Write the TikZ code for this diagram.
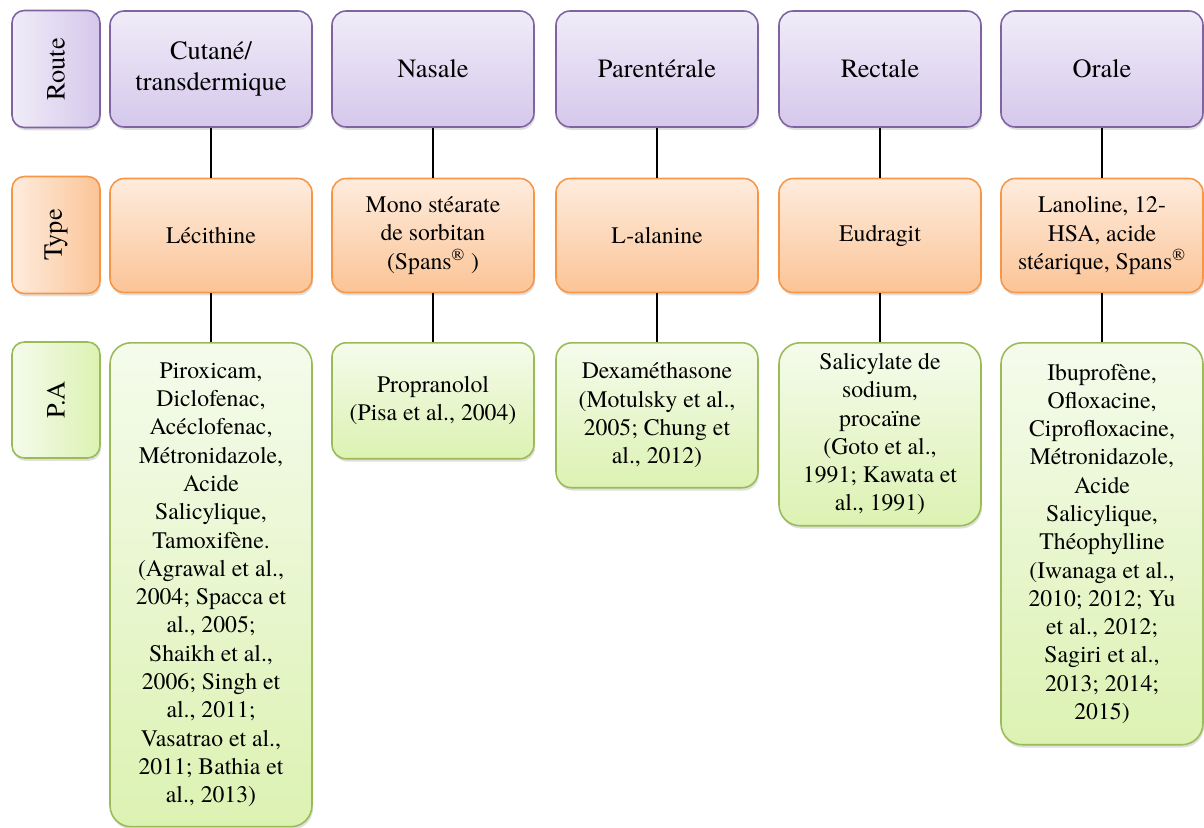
\documentclass[tikz,border=0pt]{standalone}
\usepackage{fontspec}
\setmainfont{TeX Gyre Termes}
\usepackage{tikz}
\usepackage{xcolor}
\usetikzlibrary{positioning, shadows}
\definecolor{rtDraw}{RGB}{128,100,162}
\definecolor{rtTop}{RGB}{240,236,248}
\definecolor{rtBot}{RGB}{213,200,235}
\definecolor{tyDraw}{RGB}{247,150,70}
\definecolor{tyTop}{RGB}{254,236,222}
\definecolor{tyBot}{RGB}{251,196,150}
\definecolor{paDraw}{RGB}{155,187,89}
\definecolor{paTop}{RGB}{245,251,236}
\definecolor{paBot}{RGB}{220,242,178}
\newcommand{\bodyfont}{\fontsize{13.5}{16.1}\selectfont}
\newcommand{\headfont}{\fontsize{15}{18}\selectfont}

\begin{document}
\begin{tikzpicture}[
  x=0.02cm, y=-0.02cm,
  box/.style={line width=0.9pt, align=center, inner sep=1pt,
              minimum width=4.04cm,
              drop shadow={opacity=0.25, shadow xshift=0.6pt, shadow yshift=-1.6pt}},
  routebox/.style={box, draw=rtDraw, top color=rtTop, bottom color=rtBot,
              rounded corners=8pt, minimum height=2.32cm, font=\headfont},
  typebox/.style={box, draw=tyDraw, top color=tyTop, bottom color=tyBot,
              rounded corners=8pt, minimum height=2.28cm, font=\bodyfont},
  pabox/.style={box, draw=paDraw, top color=paTop, bottom color=paBot,
              rounded corners=12pt, anchor=north, font=\bodyfont},
  sidebox/.style={line width=0.9pt, minimum width=1.76cm, rounded corners=7pt,
              font=\headfont,
              drop shadow={opacity=0.25, shadow xshift=0.6pt, shadow yshift=-1.6pt}},
  link/.style={draw=black, line width=0.7pt},
]
  \useasboundingbox (0,0) rectangle (1204,828);

  % row labels
  \node[sidebox, draw=rtDraw, left color=rtTop, right color=rtBot,
        minimum height=2.34cm] (lRoute) at (56,69) {\rotatebox{90}{Route}};
  \node[sidebox, draw=tyDraw, left color=tyTop, right color=tyBot,
        minimum height=2.34cm] (lType) at (56,235) {\rotatebox{90}{Type}};
  \node[sidebox, draw=paDraw, left color=paTop, right color=paBot,
        minimum height=2.32cm] (lPA) at (56,400) {\rotatebox{90}{P.A}};

  % routes
  \node[routebox] (cutane) at (211,69) {Cutané/\\transdermique};
  \node[routebox] (nasale) at (433,69) {Nasale};
  \node[routebox] (parent) at (657,69) {Parentérale};
  \node[routebox] (rectale) at (880,69) {Rectale};
  \node[routebox] (orale) at (1102,69) {Orale};

  % types
  \node[typebox] (lecithine) at (211,235.5) {Lécithine};
  \node[typebox] (sorbitan) at (433,235.5) {Mono stéarate\\de sorbitan\\(Spans\textsuperscript{®} )};
  \node[typebox] (alanine) at (657,235.5) {L-alanine};
  \node[typebox] (eudragit) at (880,235.5) {Eudragit};
  \node[typebox] (lanoline) at (1102,235.5) {Lanoline, 12-\\HSA, acide\\stéarique, Spans\textsuperscript{®}};

  % principes actifs
  \node[pabox, minimum height=9.68cm] (paCutane) at (211,342) {Piroxicam,\\Diclofenac,\\Acéclofenac,\\Métronidazole,\\Acide\\Salicylique,\\Tamoxifène.\\(Agrawal et al.,\\2004; Spacca et\\al., 2005;\\Shaikh et al.,\\2006; Singh et\\al., 2011;\\Vasatrao et al.,\\2011; Bathia et\\al., 2013)};
  \node[pabox, rounded corners=8pt, minimum height=2.32cm] (paNasale) at (433,342) {Propranolol\\(Pisa et al., 2004)};
  \node[pabox, rounded corners=9pt, minimum height=2.9cm] (paParent) at (657,342) {Dexaméthasone\\(Motulsky et al.,\\2005; Chung et\\al., 2012)};
  \node[pabox, minimum height=3.66cm] (paRectale) at (880,342) {Salicylate de\\sodium,\\procaïne\\(Goto et al.,\\1991; Kawata et\\al., 1991)};
  \node[pabox, minimum height=8.04cm] (paOrale) at (1102,342) {Ibuprofène,\\Ofloxacine,\\Ciprofloxacine,\\Métronidazole,\\Acide\\Salicylique,\\Théophylline\\(Iwanaga et al.,\\2010; 2012; Yu\\et al., 2012;\\Sagiri et al.,\\2013; 2014;\\2015)};

  % connectors
  \draw[link] (cutane) -- (lecithine);
  \draw[link] (nasale) -- (sorbitan);
  \draw[link] (parent) -- (alanine);
  \draw[link] (rectale) -- (eudragit);
  \draw[link] (orale) -- (lanoline);
  \draw[link] (lecithine) -- (paCutane);
  \draw[link] (sorbitan) -- (paNasale);
  \draw[link] (alanine) -- (paParent);
  \draw[link] (eudragit) -- (paRectale);
  \draw[link] (lanoline) -- (paOrale);
\end{tikzpicture}
\end{document}
